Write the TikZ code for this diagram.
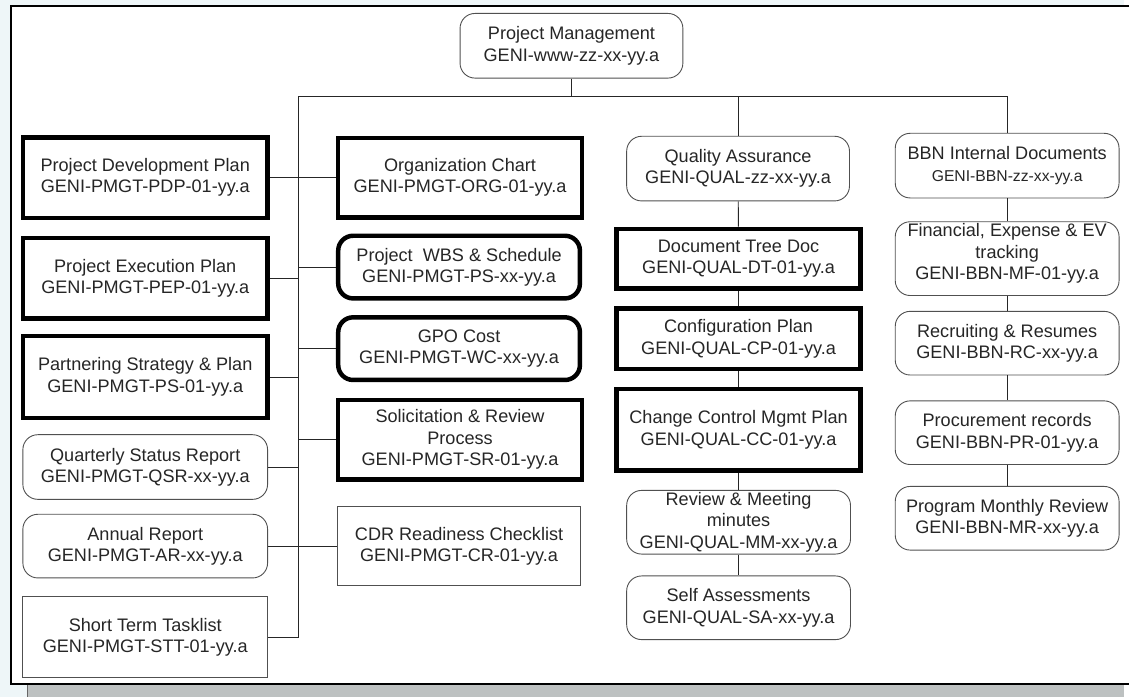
\documentclass[tikz,border=0pt]{standalone}
\usepackage{fontspec}
\setmainfont{Liberation Sans}
\definecolor{bgblue}{HTML}{EEF6F8}
\definecolor{stripgrey}{HTML}{BDC1C1}
\definecolor{txt}{HTML}{262626}
\definecolor{thinline}{HTML}{505050}
\begin{document}
\begin{tikzpicture}[x=1pt,y=-1pt,
  every node/.style={align=center,inner sep=2pt,text=txt,font=\fontsize{18.2}{21.5}\selectfont},
  thickbox/.style={draw=black,line width=4.5pt,rectangle},
  thickround/.style={draw=black,line width=4.5pt,rectangle,rounded corners=15pt},
  thinround/.style={draw=thinline,line width=0.9pt,rectangle,rounded corners=15pt},
  thinbox/.style={draw=thinline,line width=0.9pt,rectangle},
  conn/.style={draw=black!85,line width=0.9pt},
  sz/.style 2 args={minimum width=#1pt,minimum height=#2pt}]
% background and frame
\fill[bgblue] (0,0) rectangle (1130,701);
\fill[stripgrey] (27,689) rectangle (1130,701);
\draw[black!60,line width=0.8pt] (27.5,689) -- (27.5,701);
\fill[white] (11.5,6.5) rectangle (1135,688);
\draw[black,line width=2pt] (1135,6.5) -- (11.5,6.5) -- (11.5,688) -- (1135,688);
\useasboundingbox (0,0) rectangle (1130,701);

% top
\node[thinround,sz={224}{65}] (PM) at (574.5,46) {Project Management\\GENI-www-zz-xx-yy.a};

% left column
\node[thickbox,sz={246}{81}] (PDP) at (146,178.5) {Project Development Plan\\GENI-PMGT-PDP-01-yy.a};
\node[thickbox,sz={246}{81}] (PEP) at (146,279.5) {Project Execution Plan\\GENI-PMGT-PEP-01-yy.a};
\node[thickbox,sz={246}{82}] (PSP) at (146,379) {Partnering Strategy \& Plan\\GENI-PMGT-PS-01-yy.a};
\node[thinround,sz={246}{65}] (QSR) at (146,469.5) {Quarterly Status Report\\GENI-PMGT-QSR-xx-yy.a};
\node[thinround,sz={246}{64}] (AR) at (146,549) {Annual Report\\GENI-PMGT-AR-xx-yy.a};
\node[thinbox,sz={246}{81}] (STT) at (146,640.5) {Short Term Tasklist\\GENI-PMGT-STT-01-yy.a};

% middle column
\node[thickbox,sz={245}{80}] (ORG) at (462.5,178.5) {Organization Chart\\GENI-PMGT-ORG-01-yy.a};
\node[thickround,sz={243}{63}] (WBS) at (461.5,268.5) {Project\ \ WBS \& Schedule\\GENI-PMGT-PS-xx-yy.a};
\node[thickround,sz={243}{63}] (GPO) at (461.5,350.5) {GPO Cost\\GENI-PMGT-WC-xx-yy.a};
\node[thickbox,sz={245}{80}] (SR) at (462.5,442) {Solicitation \& Review\\Process\\GENI-PMGT-SR-01-yy.a};
\node[thinbox,sz={245}{80}] (CDR) at (461.5,549) {CDR Readiness Checklist\\GENI-PMGT-CR-01-yy.a};

% quality column
\node[thinround,sz={224}{65}] (QA) at (742,169.5) {Quality Assurance\\GENI-QUAL-zz-xx-yy.a};
\node[thickbox,sz={245}{60}] (DT) at (742.5,260) {Document Tree Doc\\GENI-QUAL-DT-01-yy.a};
\node[thickbox,sz={245}{61}] (CP) at (742.5,340.5) {Configuration Plan\\GENI-QUAL-CP-01-yy.a};
\node[thickbox,sz={245}{82}] (CC) at (742.5,432) {Change Control Mgmt Plan\\GENI-QUAL-CC-01-yy.a};
\node[thinround,sz={225}{64}] (MM) at (742.5,525) {Review \& Meeting\\minutes\\GENI-QUAL-MM-xx-yy.a};
\node[thinround,sz={225}{64}] (SA) at (742.5,611) {Self Assessments\\GENI-QUAL-SA-xx-yy.a};

% BBN column
\node[thinround,sz={225}{65}] (BBN) at (1012.5,166.5) {BBN Internal Documents\\{\fontsize{15.8}{19}\selectfont GENI-BBN-zz-xx-yy.a}};
\node[thinround,sz={225}{74}] (FIN) at (1012.5,260) {Financial, Expense \& EV\\tracking\\GENI-BBN-MF-01-yy.a\rule[-14pt]{0pt}{14pt}};
\node[thinround,sz={225}{64}] (RC) at (1012.5,345) {Recruiting \& Resumes\\GENI-BBN-RC-xx-yy.a};
\node[thinround,sz={225}{64}] (PR) at (1012.5,435) {Procurement records\\GENI-BBN-PR-01-yy.a};
\node[thinround,sz={225}{64}] (MR) at (1012.5,521) {Program Monthly Review\\GENI-BBN-MR-xx-yy.a};

% connectors
\coordinate (busL) at (300,97);
\coordinate (busR) at (1012.5,97);
\coordinate (trunkEnd) at (300,640.5);
\draw[conn] (PM.south) -- (PM.south |- busL);
\draw[conn] (busL) -- (busR) -- (BBN.north);
\draw[conn] (busL) -- (trunkEnd) -- (STT.east);
\draw[conn] (QA.north) -- (QA.north |- busL);
\draw[conn] (PDP.east) -- (ORG.west);
\draw[conn] (AR.east) -- (CDR.west);
\draw[conn] (PEP.east) -- (PEP.east -| busL);
\draw[conn] (PSP.east) -- (PSP.east -| busL);
\draw[conn] (QSR.east) -- (QSR.east -| busL);
\draw[conn] (WBS.west) -- (WBS.west -| busL);
\draw[conn] (GPO.west) -- (GPO.west -| busL);
\draw[conn] (SR.west) -- (SR.west -| busL);
\draw[conn] (QA) -- (DT);
\draw[conn] (DT) -- (CP);
\draw[conn] (CP) -- (CC);
\draw[conn] (CC) -- (MM);
\draw[conn] (MM) -- (SA);
\draw[conn] (BBN) -- (FIN);
\draw[conn] (FIN) -- (RC);
\draw[conn] (RC) -- (PR);
\draw[conn] (PR) -- (MR);
\end{tikzpicture}
\end{document}
